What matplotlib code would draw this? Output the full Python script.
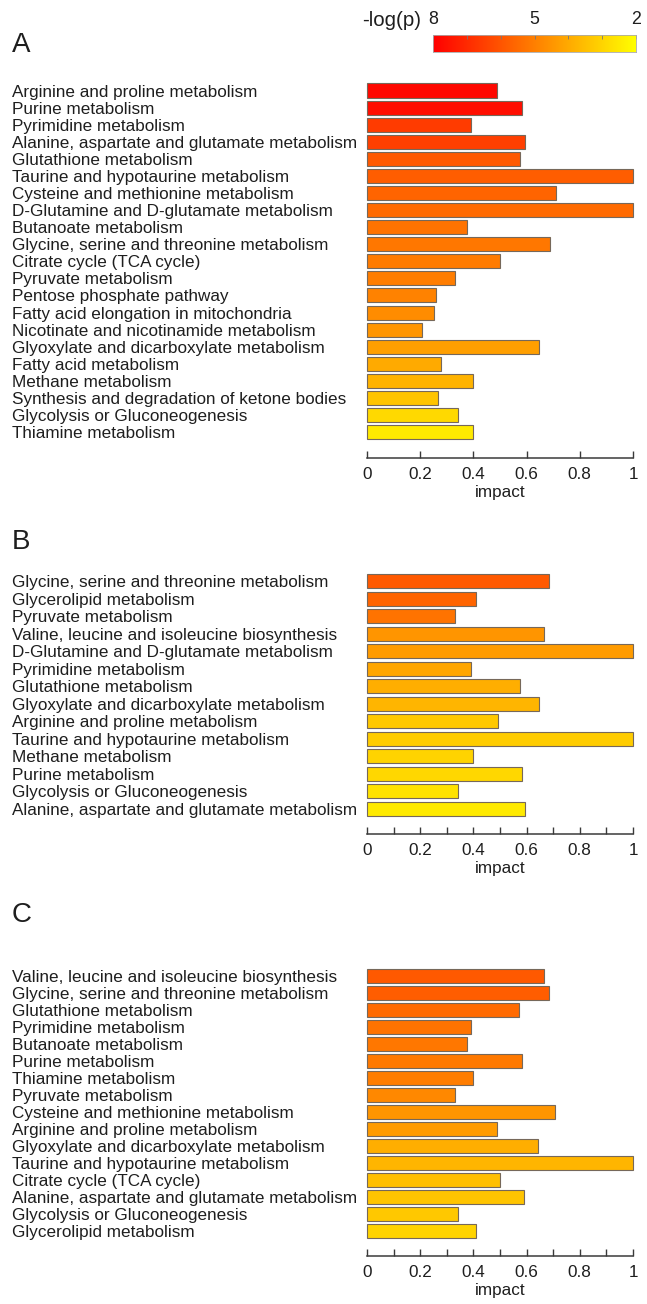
import matplotlib
matplotlib.use('Agg')
import matplotlib.pyplot as plt
import numpy as np
from matplotlib.colors import Normalize
from matplotlib.ticker import MultipleLocator, FixedLocator

plt.rcParams['font.family'] = ['Liberation Sans', 'DejaVu Sans']

# ---------------- data ----------------
pathways_a = [
    "Arginine and proline metabolism",
    "Purine metabolism",
    "Pyrimidine metabolism",
    "Alanine, aspartate and glutamate metabolism",
    "Glutathione metabolism",
    "Taurine and hypotaurine metabolism",
    "Cysteine and methionine metabolism",
    "D-Glutamine and D-glutamate metabolism",
    "Butanoate metabolism",
    "Glycine, serine and threonine metabolism",
    "Citrate cycle (TCA cycle)",
    "Pyruvate metabolism",
    "Pentose phosphate pathway",
    "Fatty acid elongation in mitochondria",
    "Nicotinate and nicotinamide metabolism",
    "Glyoxylate and dicarboxylate metabolism",
    "Fatty acid metabolism",
    "Methane metabolism",
    "Synthesis and degradation of ketone bodies",
    "Glycolysis or Gluconeogenesis",
    "Thiamine metabolism",
]
impact_a = [0.49, 0.584, 0.391, 0.594, 0.575, 1.0, 0.71, 1.0, 0.376, 0.688,
            0.499, 0.329, 0.261, 0.251, 0.206, 0.645, 0.278, 0.40, 0.268,
            0.341, 0.40]
logp_a = [7.8, 7.65, 6.6, 6.5, 5.9, 5.8, 5.65, 5.5, 5.3, 5.2, 5.1, 5.05,
          4.95, 4.7, 4.5, 4.25, 4.0, 3.8, 3.4, 2.9, 2.5]

pathways_b = [
    "Glycine, serine and threonine metabolism",
    "Glycerolipid metabolism",
    "Pyruvate metabolism",
    "Valine, leucine and isoleucine biosynthesis",
    "D-Glutamine and D-glutamate metabolism",
    "Pyrimidine metabolism",
    "Glutathione metabolism",
    "Glyoxylate and dicarboxylate metabolism",
    "Arginine and proline metabolism",
    "Taurine and hypotaurine metabolism",
    "Methane metabolism",
    "Purine metabolism",
    "Glycolysis or Gluconeogenesis",
    "Alanine, aspartate and glutamate metabolism",
]
impact_b = [0.685, 0.411, 0.33, 0.664, 1.0, 0.392, 0.574, 0.645, 0.491, 1.0,
            0.40, 0.583, 0.341, 0.593]
logp_b = [5.9, 5.65, 5.3, 4.5, 4.35, 4.1, 3.9, 3.75, 3.3, 3.2, 3.05, 2.95,
          2.7, 2.5]

pathways_c = [
    "Valine, leucine and isoleucine biosynthesis",
    "Glycine, serine and threonine metabolism",
    "Glutathione metabolism",
    "Pyrimidine metabolism",
    "Butanoate metabolism",
    "Purine metabolism",
    "Thiamine metabolism",
    "Pyruvate metabolism",
    "Cysteine and methionine metabolism",
    "Arginine and proline metabolism",
    "Glyoxylate and dicarboxylate metabolism",
    "Taurine and hypotaurine metabolism",
    "Citrate cycle (TCA cycle)",
    "Alanine, aspartate and glutamate metabolism",
    "Glycolysis or Gluconeogenesis",
    "Glycerolipid metabolism",
]
impact_c = [0.664, 0.685, 0.5725, 0.391, 0.376, 0.5825, 0.40, 0.329, 0.706,
            0.49, 0.644, 1.0, 0.50, 0.591, 0.341, 0.411]
logp_c = [5.9, 5.8, 5.5, 5.3, 5.2, 5.15, 5.05, 4.8, 4.5, 4.35, 3.9, 3.75,
          3.5, 3.4, 3.3, 3.05]

panel_letters = ["A", "B", "C"]
impact_ticks = [0, 0.2, 0.4, 0.6, 0.8, 1]
impact_tick_labels = ["0", "0.2", "0.4", "0.6", "0.8", "1"]
cbar_ticks = [8, 5, 2]

# ---------------- figure ----------------
W, H = 647, 1304
fig = plt.figure(figsize=(W / 100, H / 100), dpi=100)
cmap = plt.get_cmap('autumn_r')
norm = Normalize(2, 8)
TXT = '#1e1e1e'
FS = 12.3


def add_px_axes(x0, y_top, x1, y_bot):
    return fig.add_axes([x0 / W, 1 - y_bot / H, (x1 - x0) / W, (y_bot - y_top) / H])


# (first bar centre px, spacing px, axis px, minor ticks, letter y px)
layout = [
    (90.5, 17.08, 458, False, 45),
    (581.3, 17.5, 834, True, 542),
    (976.0, 17.0, 1256, True, 915),
]
data = [
    (pathways_a, impact_a, logp_a),
    (pathways_b, impact_b, logp_b),
    (pathways_c, impact_c, logp_c),
]

X0, X1 = 367, 633
for letter, (names, imp, lp), (c0, sp, ya, minor, ly) in zip(panel_letters, data, layout):
    n = len(names)
    top_u = -0.6
    y_top = c0 + top_u * sp
    bot_u = (ya - c0) / sp
    ax = add_px_axes(X0, y_top, X1, ya)
    y = np.arange(n)
    ax.barh(y, imp, height=0.82, color=cmap(norm(np.array(lp))),
            edgecolor='#76685a', linewidth=0.8, clip_on=False)
    ax.set_xlim(0, 1)
    ax.set_ylim(bot_u, top_u)
    for s in ['top', 'right', 'left']:
        ax.spines[s].set_visible(False)
    ax.spines['bottom'].set_color('#3a3a3a')
    ax.spines['bottom'].set_linewidth(1.1)
    ax.set_yticks(y)
    ax.set_yticklabels(names, fontsize=FS, color=TXT)
    ax.tick_params(axis='y', length=0, pad=(X0 - 12) * 0.72)
    for t in ax.get_yticklabels():
        t.set_horizontalalignment('left')
    ax.set_xticks(impact_ticks)
    ax.set_xticklabels(impact_tick_labels, fontsize=FS, color=TXT)
    if minor:
        ax.xaxis.set_minor_locator(MultipleLocator(0.1))
    ax.tick_params(axis='x', which='both', direction='in', length=5,
                   width=1.0, color='#3a3a3a', pad=6.5)
    ax.set_xlabel('impact', fontsize=FS, color=TXT, labelpad=2)
    fig.text(12 / W, 1 - ly / H, letter, fontsize=20, color=TXT,
             ha='left', va='center')

# ---------------- colour bar ----------------
cax = add_px_axes(433, 35, 636, 52)
grad = np.linspace(8, 2, 256)[None, :]
cax.imshow(grad, extent=[8, 2, 0, 1], cmap=cmap, norm=norm, aspect='auto')
cax.set_xlim(8, 2)
cax.set_ylim(0, 1)
cax.set_yticks([])
cax.xaxis.tick_top()
cax.set_xticks(cbar_ticks)
cax.set_xticklabels([str(t) for t in cbar_ticks], fontsize=FS + 0.5, color=TXT)
cax.xaxis.set_minor_locator(FixedLocator([7, 6, 4, 3]))
cax.tick_params(axis='x', which='both', direction='in', length=3,
                width=0.6, color='#777777', pad=5)
for s in cax.spines.values():
    s.set_color('#aaaaaa')
    s.set_linewidth(0.6)
fig.text(421 / W, 1 - 21 / H, '-log(p)', fontsize=FS + 2.5, color=TXT,
         ha='right', va='center')

fig.savefig('out.png', dpi=100)
